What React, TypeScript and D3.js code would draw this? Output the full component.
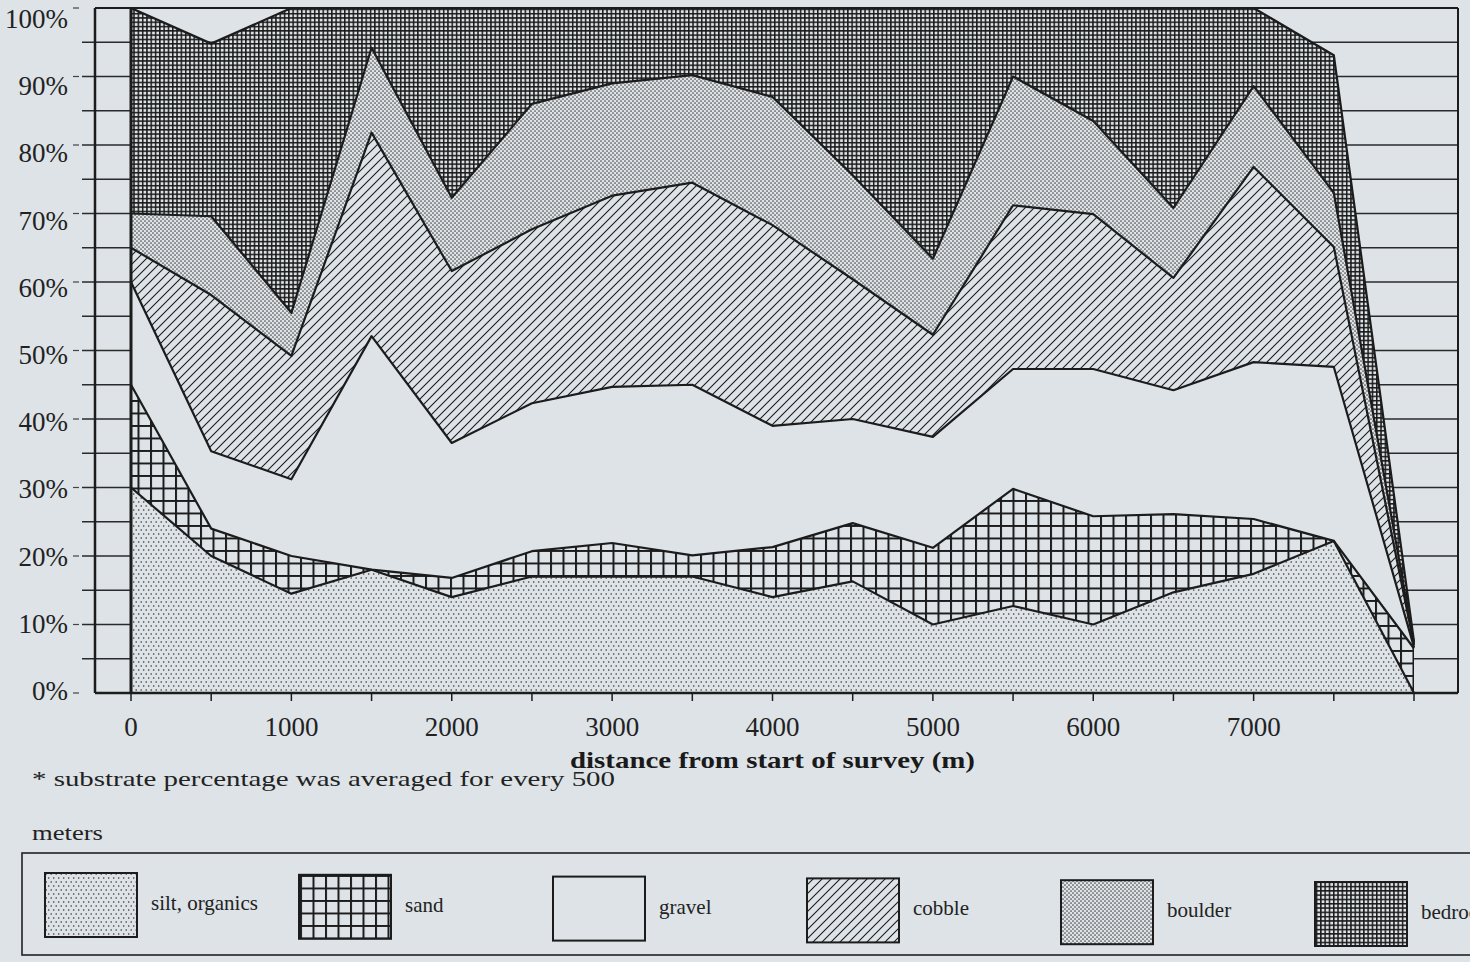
import React from "react";
import * as d3 from "d3";

// ---------- data (percent of substrate) ----------
const distances = [0, 500, 1000, 1500, 2000, 2500, 3000, 3500, 4000, 4500, 5000, 5500, 6000, 6500, 7000, 7500, 8000];
const silt = [30, 20, 14.5, 18, 14, 17, 17, 17, 14, 16.3, 10, 12.7, 10, 14.7, 17.4, 22.2, 0];
const sand = [15, 4, 5.5, 0, 2.8, 3.7, 4.9, 3.1, 7.3, 8.5, 11.2, 17.1, 15.8, 11.4, 8, 0, 6.5];
const gravel = [15, 11.3, 11.2, 34.1, 19.7, 21.6, 22.8, 24.9, 17.7, 15.2, 16.2, 17.5, 21.5, 18.1, 22.9, 25.4, 0.2];
const cobble = [5, 22.8, 18, 29.7, 25.1, 25.4, 27.9, 29.5, 29.3, 20.4, 14.9, 23.9, 22.6, 16.4, 28.5, 17.5, 0.3];
const boulder = [5, 11.5, 6.3, 12.4, 10.7, 18.3, 16.4, 15.7, 18.7, 15.2, 11.1, 18.8, 13.6, 10.2, 11.8, 7.9, 0.2];
const bedrock = [30, 25.2, 44.5, 5.8, 27.7, 14, 11, 9.8, 13, 24.4, 36.6, 10, 16.5, 29.2, 11.4, 20.1, 0.3];

const seriesKeys = ["silt", "sand", "gravel", "cobble", "boulder", "bedrock"];
const legendLabels = ["silt, organics", "sand", "gravel", "cobble", "boulder", "bedrock"];
const yTickLabels = [0, 10, 20, 30, 40, 50, 60, 70, 80, 90, 100];
const yGridSteps = [5, 10, 15, 20, 25, 30, 35, 40, 45, 50, 55, 60, 65, 70, 75, 80, 85, 90, 95];
const xTickSteps = [0, 500, 1000, 1500, 2000, 2500, 3000, 3500, 4000, 4500, 5000, 5500, 6000, 6500, 7000, 7500, 8000];
const xTickLabels = [0, 1000, 2000, 3000, 4000, 5000, 6000, 7000];
const xTitle = "distance from start of survey (m)";
const noteLine1 = "*  substrate percentage was averaged for every 500";
const noteLine2 = "meters";

const seriesData: Record<string, number[]> = { silt, sand, gravel, cobble, boulder, bedrock };

const BG = "#dde3e7";
const INK = "#1c1c1c";
const FONT = "'Liberation Serif', 'Times New Roman', serif";

export default function App() {
  const W = 1470, H = 962;
  const x = d3.scaleLinear().domain([0, 8000]).range([131, 1414]);
  const y = d3.scaleLinear().domain([0, 100]).range([693, 8]);
  const yLabel = d3.scaleLinear().domain([0, 100]).range([700, 28]);

  const rows = distances.map((d, i) => {
    const r: any = { d };
    seriesKeys.forEach((k) => (r[k] = seriesData[k][i]));
    return r;
  });
  const stacked = d3.stack().keys(seriesKeys)(rows as any);

  const area = d3
    .area<any>()
    .x((p) => x(p.data.d))
    .y0((p) => y(p[0]))
    .y1((p) => y(p[1]))
    .curve(d3.curveLinear);
  const line = d3
    .line<any>()
    .x((p) => x(p.data.d))
    .y((p) => y(p[1]))
    .curve(d3.curveLinear);

  const fills: Record<string, string> = {
    silt: "url(#p-silt)",
    sand: "url(#p-sand)",
    gravel: BG,
    cobble: "url(#p-cobble)",
    boulder: "url(#p-boulder)",
    bedrock: "url(#p-bedrock)",
  };

  const plotLeft = 95, plotRight = 1458;
  const legendX = d3.scaleLinear().domain([0, 5]).range([45, 1315]);
  const legendY = d3.scaleLinear().domain([0, 5]).range([873, 882]);

  const topTotal = stacked[stacked.length - 1];

  return (
    <svg width={W} height={H} style={{ position: "absolute", left: 0, top: 0, display: "block" }} fontFamily={FONT}>
      <defs>
        <pattern id="p-silt" patternUnits="userSpaceOnUse" width={5} height={8}>
          <rect width={5} height={8} fill={BG} />
          <circle cx={1.2} cy={2} r={0.8} fill="#333" />
          <circle cx={3.7} cy={6} r={0.8} fill="#333" />
        </pattern>
        <pattern id="p-sand" patternUnits="userSpaceOnUse" width={12.5} height={12.5}>
          <rect width={12.5} height={12.5} fill={BG} />
          <path d="M0 1 H12.5 M1 0 V12.5" stroke={INK} strokeWidth={2} />
        </pattern>
        <pattern id="p-cobble" patternUnits="userSpaceOnUse" width={9} height={9}>
          <rect width={9} height={9} fill={BG} />
          <path d="M-1 10 L10 -1 M-3 3 L3 -3 M6 12 L12 6" stroke={INK} strokeWidth={1.1} />
        </pattern>
        <pattern id="p-boulder" patternUnits="userSpaceOnUse" width={4} height={4}>
          <rect width={4} height={4} fill={BG} />
          <circle cx={1} cy={1} r={0.85} fill="#4a4a4a" />
          <circle cx={3} cy={3} r={0.85} fill="#4a4a4a" />
        </pattern>
        <pattern id="p-bedrock" patternUnits="userSpaceOnUse" width={4.3} height={4.3}>
          <rect width={4.3} height={4.3} fill={BG} />
          <path d="M0 0.7 H4.3 M0.7 0 V4.3" stroke="#1a1a1a" strokeWidth={1.6} />
        </pattern>
      </defs>

      <rect x={0} y={0} width={W} height={H} fill={BG} />

      {/* horizontal grid lines every 5% */}
      {yGridSteps.map((v) => (
        <line key={"g" + v} x1={82} x2={plotRight} y1={y(v)} y2={y(v)} stroke="#2a2a2a" strokeWidth={1.4} />
      ))}
      {yTickLabels.map((v) => (
        <line key={"tk" + v} x1={73} x2={79} y1={y(v)} y2={y(v)} stroke="#444" strokeWidth={1.2} />
      ))}

      {/* stacked areas */}
      {stacked.map((s) => (
        <path key={s.key} d={area(s as any) || ""} fill={fills[s.key]} stroke="none" />
      ))}
      {stacked.map((s) => (
        <path key={"l" + s.key} d={line(s as any) || ""} fill="none" stroke={INK} strokeWidth={2.2} strokeLinejoin="round" />
      ))}
      {/* left edge of areas */}
      <line x1={x(0)} x2={x(0)} y1={y(0)} y2={y(topTotal[0][1])} stroke={INK} strokeWidth={3} />

      {/* frame / axes */}
      <line x1={plotLeft} x2={plotLeft} y1={y(100)} y2={y(0)} stroke={INK} strokeWidth={2.5} />
      <line x1={plotLeft} x2={plotRight} y1={y(100)} y2={y(100)} stroke={INK} strokeWidth={2} />
      <line x1={plotLeft} x2={plotRight} y1={y(0)} y2={y(0)} stroke={INK} strokeWidth={2.5} />
      <line x1={plotRight} x2={plotRight} y1={y(100)} y2={y(0)} stroke={INK} strokeWidth={2} />

      {/* x ticks */}
      {xTickSteps.map((v) => (
        <line key={"xt" + v} x1={x(v)} x2={x(v)} y1={y(0)} y2={y(0) + 8} stroke={INK} strokeWidth={1.5} />
      ))}
      {xTickLabels.map((v) => (
        <text key={"xl" + v} x={x(v)} y={736} textAnchor="middle" fontSize={27} fill="#222">
          {v}
        </text>
      ))}

      {/* y labels */}
      {yTickLabels.map((v) => (
        <text key={"yl" + v} x={68} y={yLabel(v)} textAnchor="end" fontSize={27} fill="#222">
          {v}%
        </text>
      ))}

      {/* axis title */}
      <text x={570} y={768} fontSize={24} fontWeight="bold" fill="#1a1a1a" textLength={405} lengthAdjust="spacingAndGlyphs">
        {xTitle}
      </text>

      {/* footnote */}
      <text x={32} y={786} fontSize={22} fill="#222" textLength={583} lengthAdjust="spacingAndGlyphs">
        {noteLine1}
      </text>
      <text x={32} y={840} fontSize={22} fill="#222" textLength={71} lengthAdjust="spacingAndGlyphs">
        {noteLine2}
      </text>

      {/* legend */}
      <rect x={22} y={853} width={1470} height={102} fill="none" stroke="#222" strokeWidth={1.6} />
      {seriesKeys.map((k, i) => {
        const lx = legendX(i);
        const ly = legendY(i);
        return (
          <g key={"lg" + k}>
            <rect x={lx} y={ly} width={92} height={64} fill={fills[k]} stroke={INK} strokeWidth={2} />
            <text x={lx + 92 + 14} y={ly + 37} fontSize={21} fill="#222">
              {legendLabels[i]}
            </text>
          </g>
        );
      })}
    </svg>
  );
}
